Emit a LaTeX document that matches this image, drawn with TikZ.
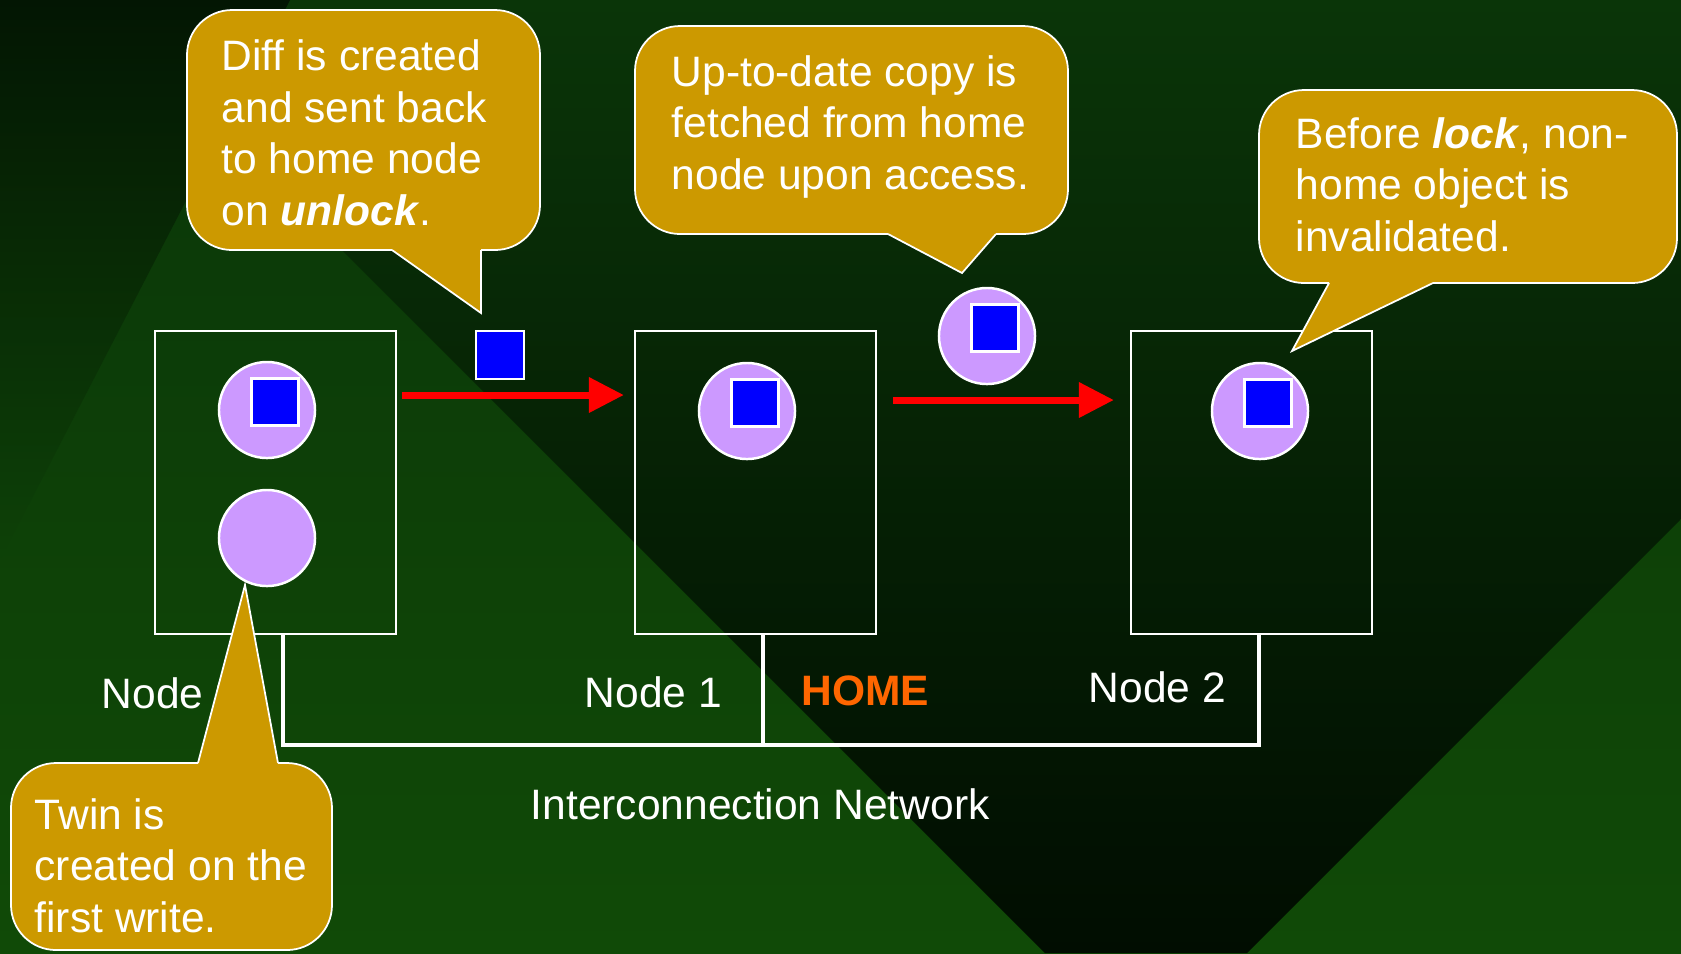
\documentclass[tikz,border=0pt]{standalone}
\usepackage{fontspec}
\setmainfont{Liberation Sans}
\usetikzlibrary{positioning, arrows.meta, calc}
\definecolor{bgTop}{HTML}{0A3508}
\definecolor{bgBot}{HTML}{104A07}
\definecolor{bgVee}{HTML}{010D01}
\definecolor{bgCorner}{HTML}{031603}
\definecolor{cGold}{HTML}{CC9900}
\definecolor{cLilac}{HTML}{CC99FF}
\definecolor{cHome}{HTML}{FF6600}
\newcommand{\bodyfont}{\fontsize{12.1}{14.6}\selectfont}

\begin{document}
\begin{tikzpicture}[
    x=0.01cm, y=-0.01cm,
    >=Latex,
    txt/.style={font=\bodyfont, text=white, inner sep=0pt},
    nodebox/.style={draw=white, line width=0.6pt, minimum width=2.41cm,
        minimum height=3.03cm, inner sep=0pt},
    obj/.style={circle, draw=white, line width=0.7pt, fill=cLilac,
        minimum size=0.96cm, inner sep=0pt},
    pagebox/.style={draw=white, line width=0.6pt, fill=blue,
        minimum size=0.47cm, inner sep=0pt},
    redarr/.style={-{Triangle[length=0.35cm, width=0.34cm]}, line width=0.07cm, draw=red},
    bus/.style={draw=white, line width=0.045cm, line join=miter},
    notetext/.style={txt, align=left, anchor=base west},
    rim/.style={draw=white, line width=0.5pt},
]

% =============================================
% BACKGROUND: green slide with dark wedges
% =============================================
\useasboundingbox (0,0) rectangle (1681,953);
\shade[top color=bgTop, bottom color=bgBot] (0,0) rectangle (1681,953);
\shade[top color=bgTop, bottom color=bgVee]
    (92,0) -- (1681,0) -- (1681,519) -- (1247,953) -- (1045,953) -- cycle;
\shade[top color=bgCorner, middle color=bgTop!92!bgCorner, bottom color=bgTop!41!bgBot]
    (0,0) -- (290,0) -- (0,560) -- cycle;

% --- Helper: speech bubble, body (#1,#2)-(#3,#4), pointer base #5..#6 on edge #4, tip #7 ---
\newcommand{\bubble}[7]{%
    \fill[cGold, rounded corners=0.45cm] (#1,#2) rectangle (#3,#4);
    \fill[cGold] (#5,#4) -- (#7) -- (#6,#4) -- cycle;
    \draw[rim, rounded corners=0.45cm] (#6,#4) -- (#3,#4) -- (#3,#2) -- (#1,#2) -- (#1,#4) -- (#5,#4);
    \draw[rim, line join=miter] (#5,#4) -- (#7) -- (#6,#4);
}

% =============================================
% NODES + INTERCONNECTION NETWORK
% =============================================
\node[nodebox] (box0) at (275.5,482.5) {};
\node[nodebox] (box1) at (755.5,482.5) {};
\node[nodebox] (box2) at (1251.5,482.5) {};

\coordinate (busL) at (283,745);
\coordinate (busM) at (763,745);
\coordinate (busR) at (1259,745);
\draw[bus] (box0.south -| busL) |- (busR) -- (box2.south -| busR);
\draw[bus] (box1.south -| busM) -- (busM);

\node[txt, anchor=base west] (lbl0) at (101,708) {Node 0};
\node[txt, anchor=base west] (lbl1) at (584,707) {Node 1};
\node[txt, anchor=base west, font=\bodyfont\bfseries, text=cHome] (home) at (801,705) {HOME};
\node[txt, anchor=base west] (lbl2) at (1088,702) {Node 2};
\node[txt, anchor=base west] (netlbl) at (530,819) {Interconnection Network};

% =============================================
% SHARED OBJECTS (circle = object, square = page data)
% =============================================
\node[obj] (obj0) at (267,410) {};
\node[obj] (twin0) at (267,538) {};
\node[obj] (obj1) at (747,411) {};
\node[obj] (obj2) at (1260,411) {};
\node[obj] (fetch) at (987,336) {};

\node[pagebox] (pg0) at ($(obj0)+(8,-8)$) {};
\node[pagebox] (pg1) at ($(obj1)+(8,-8)$) {};
\node[pagebox] (pg2) at ($(obj2)+(8,-8)$) {};
\node[pagebox] (pgF) at ($(fetch)+(8,-8)$) {};
\node[pagebox, minimum size=0.48cm] (diff) at (500,355) {};

% transfers
\coordinate (rowA) at (0,395);
\coordinate (rowB) at (0,400);
\draw[redarr, shorten <=0.05cm, shorten >=0.1cm] (box0.east |- rowA) -- (box1.west |- rowA);
\draw[redarr, shorten <=0.16cm, shorten >=0.16cm] (box1.east |- rowB) -- (box2.west |- rowB);

% =============================================
% CALLOUTS (text placed at baseline of its last line)
% =============================================
\bubble{187}{10}{540}{250}{392}{481}{481,313}
\node[notetext] (tipDiff) at (221,225)
    {Diff is created\\and sent back\\to home node\\on \textbf{\textit{unlock}}.};

\bubble{635}{26}{1068}{234}{888}{996}{962,273}
\node[notetext] (tipFetch) at (671,189)
    {Up-to-date copy is\\fetched from home\\node upon access.};

\bubble{1259}{90}{1677}{283}{1329}{1433}{1292,351}
\node[notetext] (tipLock) at (1295,251)
    {Before \textbf{\textit{lock}}, non-\\home object is\\invalidated.};

\bubble{11}{950}{332}{763}{198}{278}{245,585}
\node[notetext] (tipTwin) at (34,932)
    {Twin is\\created on the\\first write.};

\end{tikzpicture}
\end{document}
